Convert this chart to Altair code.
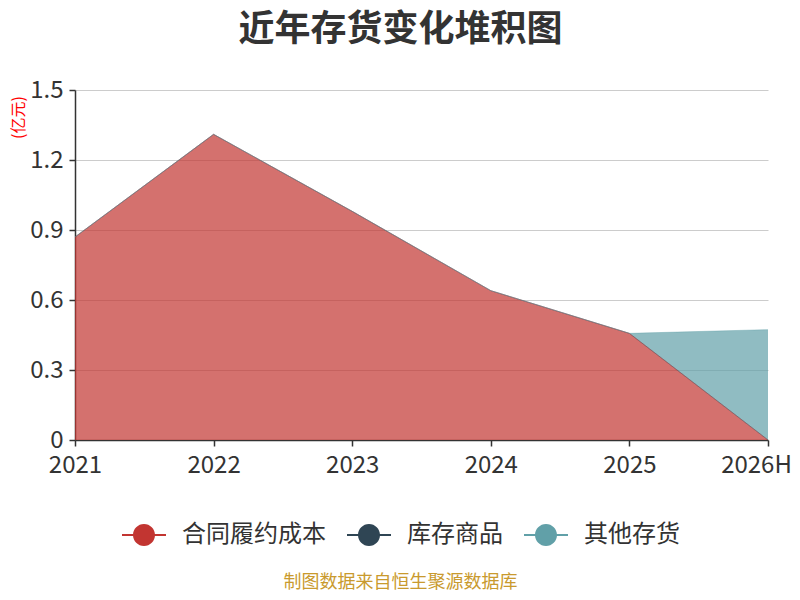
import altair as alt
import pandas as pd

years = ["2021", "2022", "2023", "2024", "2025", "2026H"]
series = ["合同履约成本", "库存商品", "其他存货"]
colors = ["#c23531", "#2f4554", "#61a0a8"]
contract_cost = [0.87, 1.31, 0.98, 0.64, 0.457, 0.0]
goods = [0.0, 0.0, 0.0, 0.0, 0.0, 0.0]
other = [0.0, 0.0, 0.0, 0.0, 0.0, 0.473]
y_ticks = [0, 0.3, 0.6, 0.9, 1.2, 1.5]

rows = []
for k, (name, vals) in enumerate(zip(series, [contract_cost, goods, other])):
    for yr, v in zip(years, vals):
        rows.append({"year": yr, "series": name, "value": v, "order": k})
df = pd.DataFrame(rows)

FONT = "Noto Sans CJK SC"
legend_path = ("M-1,-0.045H1V0.045H-1Z "
               "M-0.5,0A0.5,0.5,0,1,1,0.5,0A0.5,0.5,0,1,1,-0.5,0Z")

x_enc = alt.X(
    "year:O", sort=years,
    scale=alt.Scale(type="point", padding=0),
    axis=alt.Axis(
        title="制图数据来自恒生聚源数据库",
        titleColor="#c99a2e", titleFontSize=18, titleFontWeight="normal",
        titleFont=FONT, titleX=325, titleY=142, titleAlign="center",
        titleBaseline="middle",
        labelAngle=0, labelFontSize=24, labelColor="#333333", labelFont=FONT,
        labelPadding=7, tickSize=6, tickColor="#333333", tickWidth=1.5,
        labelOffset={"condition": {"test": f"datum.value === '{years[-1]}'",
                                   "value": -12}, "value": 0},
        domainColor="#333333", domainWidth=1.5, grid=False,
    ),
)
y_enc = alt.Y(
    "y1:Q",
    scale=alt.Scale(domain=[0, 1.5]),
    axis=alt.Axis(
        title="(亿元)", titleColor="#ff0000", titleFontSize=16,
        titleFontWeight="normal", titleFont=FONT, titleX=-57, titleY=27,
        titleAlign="center", titleBaseline="middle", titleAngle=270,
        values=y_ticks, format=".1~f",
        labelFontSize=24, labelColor="#333333", labelFont=FONT, labelPadding=6,
        tickSize=6, tickColor="#333333", tickWidth=1.5,
        domainColor="#333333", domainWidth=1.5,
        gridColor="#cccccc", gridWidth=1,
    ),
)

base = alt.Chart(df).transform_stack(
    stack="value", as_=["y0", "y1"], groupby=["year"],
    sort=[alt.SortField("order", "ascending")],
)

area = base.mark_area(opacity=0.7, interpolate="linear").encode(
    x=x_enc,
    y=y_enc,
    y2="y0:Q",
    color=alt.Color(
        "series:N",
        scale=alt.Scale(domain=series, range=colors),
        legend=alt.Legend(
            title=None, orient="none", legendX=47, legendY=423,
            direction="horizontal", symbolType=legend_path, symbolSize=1936,
            symbolStrokeWidth=0, symbolOpacity=1, labelFontSize=24,
            labelColor="#333333", labelFont=FONT, labelOffset=16,
            columnPadding=21,
        ),
    ),
    order=alt.Order("order:Q"),
)

lines = base.mark_line(strokeWidth=1, opacity=0.4).encode(
    x=x_enc,
    y=y_enc,
    stroke=alt.Stroke(
        "series:N",
        scale=alt.Scale(domain=series, range=colors),
        legend=None,
    ),
)

chart = alt.layer(area, lines).properties(
    width=693,
    height=350,
    autosize=alt.AutoSizeParams(type="none"),
    padding={"left": 67, "top": 82, "right": 24, "bottom": 152},
    title=alt.TitleParams(
        "近年存货变化堆积图", anchor="middle", dx=-21, offset=29,
        fontSize=36, fontWeight="bold", font=FONT, color="#333333",
    ),
).configure_view(stroke=None)

chart.save("out.html", embed_options={"renderer": "svg", "actions": False})
